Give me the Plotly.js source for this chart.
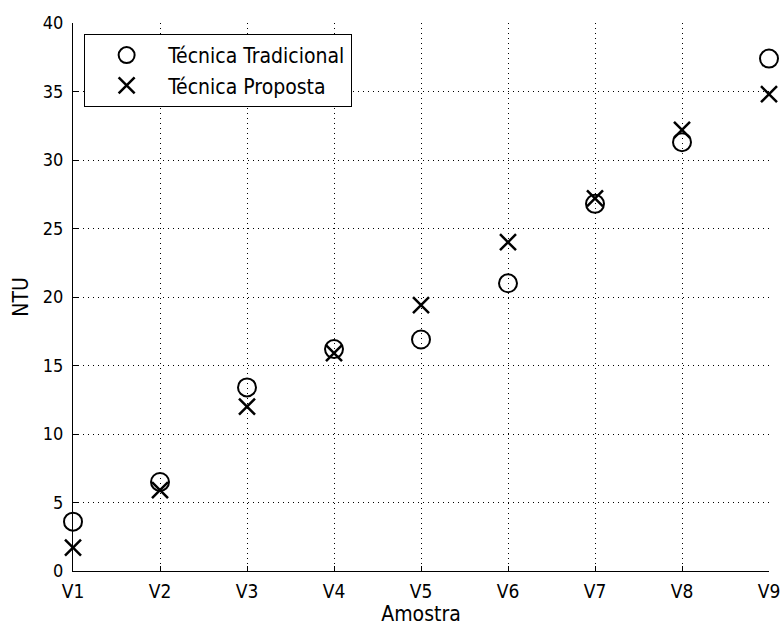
<!DOCTYPE html>
<html>
<head>
<meta charset="utf-8">
<script src="https://cdn.plot.ly/plotly-3.0.1.min.js"></script>
<style>html,body{margin:0;padding:0;background:#fff;}</style>
</head>
<body>
<div id="chart" style="width:781px;height:626px;"></div>
<script>
var categories = ['V1','V2','V3','V4','V5','V6','V7','V8','V9'];
var tradicional = [3.6, 6.5, 13.4, 16.2, 16.9, 21.0, 26.8, 31.3, 37.4];
var proposta = [1.7, 5.9, 12.0, 15.9, 19.4, 24.0, 27.2, 32.2, 34.8];
var yTicks = [0,5,10,15,20,25,30,35,40];

var fam = 'DejaVu Sans Condensed, DejaVu Sans, sans-serif';

var traces = [
  {x: categories, y: tradicional, type: 'scatter', mode: 'markers', name: 'Técnica Tradicional',
   legendgroup: 'a', cliponaxis: false,
   marker: {symbol: 'circle-open', size: 18, color: '#000', line: {width: 2, color: '#000'}}},
  {x: categories, y: proposta, type: 'scatter', mode: 'markers', name: 'Técnica Proposta',
   legendgroup: 'b', cliponaxis: false,
   marker: {symbol: 'x-thin-open', size: 16, color: '#000', line: {width: 2.5, color: '#000'}}}
];

var layout = {
  width: 781, height: 626,
  margin: {l: 73, r: 12, t: 23, b: 55},
  paper_bgcolor: '#fff', plot_bgcolor: '#fff',
  font: {family: fam, size: 18, color: '#000'},
  showlegend: true,
  legend: {x: 0.016, y: 0.98, xanchor: 'left', yanchor: 'top',
    bordercolor: '#000', borderwidth: 1, bgcolor: '#fff',
    font: {family: fam, size: 21, color: '#000'},
    traceorder: 'grouped', tracegroupgap: 0, itemwidth: 73},
  xaxis: {type: 'category', categoryarray: categories, range: [0, 8],
    showline: true, linecolor: '#000', linewidth: 1, mirror: false,
    ticks: 'inside', ticklen: 5, tickcolor: '#000',
    tickfont: {family: fam, size: 19, color: '#000'},
    showgrid: true, gridcolor: '#000', gridwidth: 1, griddash: '1px,4px',
    zeroline: false, ticklabelstandoff: 3,
    title: {text: 'Amostra', font: {family: fam, size: 21, color: '#000'}, standoff: 5}},
  yaxis: {range: [0, 40], tickvals: yTicks, ticktext: yTicks.map(String),
    showline: true, linecolor: '#000', linewidth: 1, mirror: false,
    ticks: 'inside', ticklen: 5, tickcolor: '#000',
    tickfont: {family: fam, size: 18, color: '#000'},
    showgrid: true, gridcolor: '#000', gridwidth: 1, griddash: '1px,4px',
    zeroline: false, ticklabelstandoff: 5,
    title: {text: 'NTU', font: {family: fam, size: 21, color: '#000'}, standoff: 8}}
};

Plotly.newPlot('chart', traces, layout, {displayModeBar: false, staticPlot: true});
</script>
</body>
</html>
